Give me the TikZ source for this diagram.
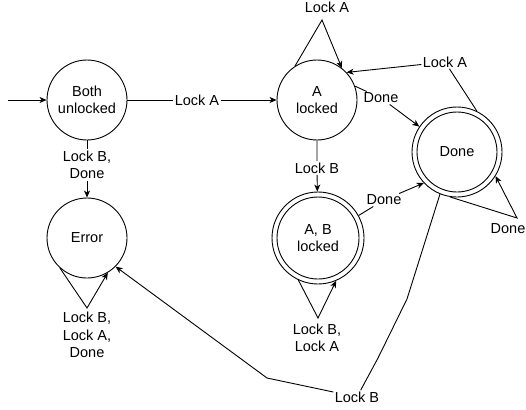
\documentclass[tikz,border=0pt]{standalone}
\usepackage{fontspec}
\setmainfont{Liberation Sans}
\usetikzlibrary{arrows.meta}
\begin{document}
\begin{tikzpicture}[x=1pt,y=-1pt,line width=0.9pt,
  every node/.style={font=\fontsize{14.5}{17.5}\selectfont},
  state/.style={circle,draw,minimum size=80pt,inner sep=0pt,align=center},
  lbl/.style={fill=white,inner sep=1pt,align=center},
  arr/.style={-{Stealth[length=7pt,width=6pt,inset=2pt]}}
]
\useasboundingbox (0,0) rectangle (526,409);
% states
\node[state] (BU) at (87,100) {Both\\unlocked};
\node[state] (AL) at (317,100) {A\\locked};
\node[state] (ER) at (87,238) {Error};
\node[state,minimum size=90pt] (DN) at (457,152) {Done};
\draw (DN.center) circle[radius=40pt];
\node[state,minimum size=92pt] (AB) at (318,238) {A, B\\locked};
\draw (AB.center) circle[radius=41pt];
% labels
\node[lbl] (lA1) at (197,100) {Lock A};
\node[lbl] (lBD) at (87,165) {Lock B,\\Done};
\node[lbl] (lAs) at (327,7) {Lock A};
\node[lbl] (lAD) at (445,62) {Lock A};
\node[lbl] (lD1) at (381,98) {Done};
\node[lbl] (lB1) at (317,168) {Lock B};
\node[lbl] (lD2) at (384,200) {Done};
\node[lbl] (lDs) at (508,229) {Done};
\node[lbl] (lABs) at (317,338) {Lock B,\\Lock A};
\node[lbl] (lEs) at (87,335) {Lock B,\\Lock A,\\Done};
\node[lbl] (lB2) at (357,397) {Lock B};
% coordinates
\coordinate (init) at (8,100);
\coordinate (apA) at (322,20);
\coordinate (apD) at (517,218);
\coordinate (apAB) at (318,318);
\coordinate (apE) at (87,308);
\coordinate (b1) at (407,299);
\coordinate (b2) at (378,358);
\coordinate (b3) at (267,378);
% edges
\draw[arr] (init) -- (BU.west);
\draw[arr] (BU) -- (lA1) -- (AL);
\draw[arr] (BU) -- (lBD) -- (ER);
\draw[arr] (AL.123) -- (apA) -- (AL.52);
\draw[arr] (DN.64) -- (lAD) -- (AL.43);
\draw[arr] (AL.20) -- (lD1) -- (DN.146);
\draw[arr] (AL) -- (lB1) -- (AB);
\draw[arr] (AB.29) -- (lD2) -- (DN.223);
\draw[arr] (DN.-99) -- (apD) -- (DN.-32);
\draw[arr] (AB.-115) -- (apAB) -- (AB.-67);
\draw[arr] (ER.-132) -- (apE) -- (ER.-59);
\draw[arr] (DN.-112) -- (b1) -- (b2) -- (lB2) -- (b3) -- (ER.-45);
\end{tikzpicture}
\end{document}
